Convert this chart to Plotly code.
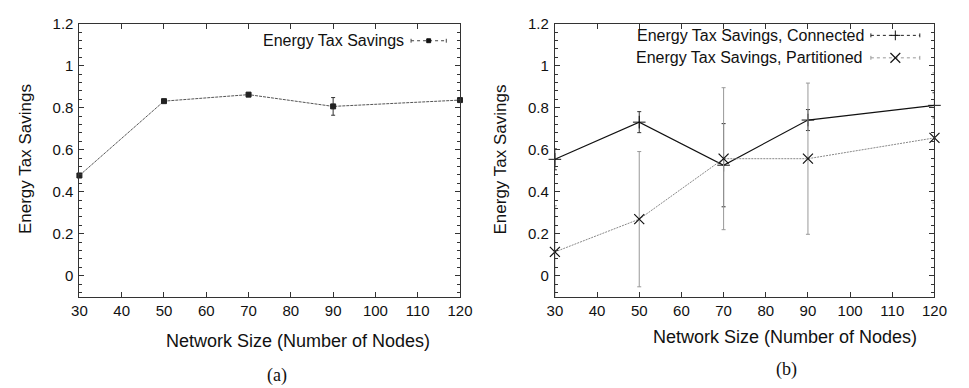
import plotly.graph_objects as go

# ---- data ----
nodes = [30, 50, 70, 90, 120]
savings_a = [0.477, 0.831, 0.862, 0.806, 0.836]
savings_a_err = [0.01, 0.008, 0.008, 0.042, 0.008]

conn = [0.554, 0.731, 0.526, 0.741, 0.811]
conn_err = [0.05, 0.05, 0.198, 0.05, 0.06]

part = [0.113, 0.269, 0.557, 0.557, 0.656]
part_err = [0.22, 0.322, 0.338, 0.36, 0.31]

x_ticks = [30, 40, 50, 60, 70, 80, 90, 100, 110, 120]

W, H = 969, 388
FONT = "Liberation Sans, Arial, sans-serif"

fig = go.Figure()

fig.add_trace(go.Scatter(
    x=nodes, y=savings_a, mode="lines+markers", xaxis="x", yaxis="y",
    line=dict(color="#555555", width=1, dash="3px,1px"),
    marker=dict(symbol="square", size=5, color="#222222", line=dict(color="#222222", width=1)),
    error_y=dict(type="data", array=savings_a_err, color="#333333", thickness=1, width=2),
    cliponaxis=False, showlegend=False))

fig.add_trace(go.Scatter(
    x=nodes, y=conn, mode="lines+markers", xaxis="x2", yaxis="y2",
    line=dict(color="#111111", width=1.2),
    marker=dict(symbol="cross-thin", size=9, color="#111111", line=dict(color="#111111", width=1)),
    error_y=dict(type="data", array=conn_err, color="#333333", thickness=1, width=2),
    cliponaxis=False, showlegend=False))

fig.add_trace(go.Scatter(
    x=nodes, y=part, mode="lines+markers", xaxis="x2", yaxis="y2",
    line=dict(color="#888888", width=1, dash="2px,1px"),
    marker=dict(symbol="x-thin", size=10, color="#111111", line=dict(color="#111111", width=1.2)),
    error_y=dict(type="data", array=part_err, color="#999999", thickness=1, width=2),
    cliponaxis=False, showlegend=False))

def px(x):
    return x / W

def py(y):
    return 1 - y / H

ydom = [py(294.5), py(15)]

axis_common = dict(
    showline=True, linecolor="#333333", linewidth=1, mirror="allticks",
    ticks="inside", ticklen=5, tickcolor="#333333", tickwidth=1,
    showgrid=False, zeroline=False,
    tickfont=dict(family=FONT, size=15, color="#111111"),
)
yminor = dict(ticks="inside", dtick=0.04, tick0=0, ticklen=3, tickcolor="#333333", showgrid=False)

fig.update_layout(
    width=W, height=H, margin=dict(l=0, r=0, t=0, b=0),
    paper_bgcolor="white", plot_bgcolor="white",
    xaxis=dict(domain=[px(73), px(462)], range=[30, 120], tickvals=x_ticks, anchor="y", **axis_common),
    yaxis=dict(domain=ydom, range=[-0.1, 1.2], tickmode="linear", tick0=0, dtick=0.2, anchor="x",
               ticklabelstandoff=2, minor=yminor, **axis_common),
    xaxis2=dict(domain=[px(559), px(947)], range=[30, 120], tickvals=x_ticks, anchor="y2", **axis_common),
    yaxis2=dict(domain=ydom, range=[-0.1, 1.2], tickmode="linear", tick0=0, dtick=0.2, anchor="x2",
                ticklabelstandoff=2, minor=yminor, **axis_common),
)

ann = []
def text(x, y, s, size=17, anchor="center", angle=0, family=FONT):
    ann.append(dict(x=px(x), y=py(y), xref="paper", yref="paper", text=s, showarrow=False,
                    xanchor=anchor, yanchor="middle", textangle=angle,
                    font=dict(family=family, size=size, color="#111111")))

text(18, 154, "Energy Tax Savings", size=17, angle=-90)
text(503, 154, "Energy Tax Savings", size=17, angle=-90)
text(296, 340, "Network Size (Number of Nodes)", size=18)
text(794, 336, "Network Size (Number of Nodes)", size=18)
text(275, 375, "(a)", size=18, family="Liberation Serif, Times New Roman, serif")
text(796, 369, "(b)", size=18, family="Liberation Serif, Times New Roman, serif")

# legends (text left, sample right, gnuplot style)
text(407, 32.5, "Energy Tax Savings", size=16, anchor="right")
text(877, 27, "Energy Tax Savings, Connected", size=16, anchor="right")
text(876, 50, "Energy Tax Savings, Partitioned", size=16, anchor="right")
fig.update_layout(annotations=ann)

shapes = []
def seg(x0, y0, x1, y1, color, dash="solid", width=1):
    shapes.append(dict(type="line", xref="paper", yref="paper", x0=px(x0), y0=py(y0), x1=px(x1), y1=py(y1),
                       line=dict(color=color, width=width, dash=dash)))

def sample(x0, x1, y, color, dash, mk, mkcolor="#111111"):
    seg(x0, y, x1, y, color, dash)
    seg(x0, y - 2, x0, y + 2, color)
    seg(x1, y - 2, x1, y + 2, color)
    xm = (x0 + x1) / 2
    if mk == "square":
        shapes.append(dict(type="rect", xref="paper", yref="paper", x0=px(xm - 2), x1=px(xm + 2),
                           y0=py(y + 2), y1=py(y - 2), fillcolor=mkcolor, line=dict(color=mkcolor, width=1)))
    elif mk == "plus":
        seg(xm - 5, y, xm + 5, y, mkcolor)
        seg(xm, y - 5, xm, y + 5, mkcolor)
    elif mk == "x":
        seg(xm - 5, y - 5, xm + 5, y + 5, mkcolor, width=1.2)
        seg(xm - 5, y + 5, xm + 5, y - 5, mkcolor, width=1.2)

sample(412, 448, 32.5, "#444444", "dot", "square")
sample(882, 932, 27, "#222222", "dot", "plus")
sample(882, 932, 50, "#999999", "dot", "x")
fig.update_layout(shapes=shapes)

fig.write_html("out.html")
